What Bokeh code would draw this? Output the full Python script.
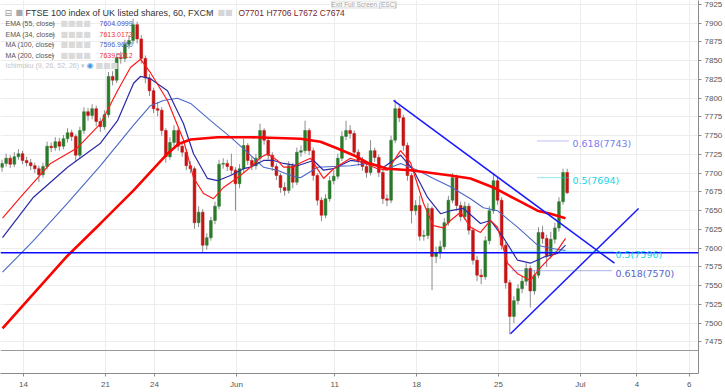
from bokeh.plotting import figure
from bokeh.models import Range1d, FixedTicker, Span, Label, ColumnDataSource
from bokeh.embed import file_html
from bokeh.resources import INLINE

# ---------------- data ----------------
opens = [7708, 7713, 7720, 7712, 7722, 7726, 7717, 7714, 7710, 7706,
         7698, 7709, 7736, 7734, 7742, 7736, 7746, 7754, 7749, 7724,
         7757, 7782, 7777, 7786, 7769, 7762, 7778, 7829, 7824, 7854,
         7853, 7872, 7877, 7898, 7879, 7853, 7827, 7810, 7786, 7784,
         7757, 7722, 7741, 7757, 7736, 7728, 7710, 7706, 7634, 7648,
         7604, 7614, 7637, 7656, 7712, 7713, 7709, 7704, 7686, 7706,
         7737, 7717, 7710, 7720, 7757, 7744, 7724, 7709, 7697, 7681,
         7677, 7710, 7688, 7728, 7730, 7757, 7730, 7697, 7664, 7644,
         7666, 7690, 7696, 7720, 7749, 7757, 7753, 7728, 7717, 7709,
         7701, 7730, 7721, 7701, 7666, 7664, 7744, 7786, 7774, 7737,
         7697, 7650, 7657, 7616, 7617, 7653, 7589, 7594, 7602, 7634,
         7664, 7694, 7657, 7642, 7656, 7624, 7584, 7564, 7562, 7610,
         7650, 7690, 7664, 7604, 7554, 7509, 7530, 7546, 7556, 7573,
         7543, 7564, 7621, 7613, 7590, 7612, 7627, 7662, 7701]
highs = [7718, 7726, 7724, 7728, 7732, 7730, 7722, 7719, 7714, 7710,
         7714, 7742, 7741, 7748, 7747, 7751, 7760, 7758, 7752, 7762,
         7788, 7787, 7792, 7790, 7774, 7784, 7835, 7836, 7860, 7862,
         7878, 7884, 7906, 7902, 7884, 7857, 7832, 7814, 7795, 7788,
         7760, 7748, 7764, 7760, 7741, 7732, 7716, 7709, 7656, 7652,
         7620, 7642, 7662, 7718, 7720, 7718, 7726, 7708, 7712, 7746,
         7740, 7722, 7726, 7766, 7760, 7748, 7728, 7713, 7700, 7688,
         7716, 7714, 7734, 7737, 7770, 7760, 7734, 7700, 7668, 7672,
         7696, 7704, 7726, 7756, 7770, 7764, 7757, 7732, 7722, 7714,
         7744, 7734, 7725, 7705, 7672, 7750, 7798, 7790, 7778, 7741,
         7700, 7664, 7670, 7624, 7660, 7656, 7602, 7610, 7640, 7670,
         7700, 7698, 7662, 7662, 7660, 7628, 7590, 7572, 7616, 7656,
         7700, 7694, 7668, 7608, 7558, 7536, 7552, 7563, 7580, 7577,
         7570, 7628, 7630, 7618, 7622, 7634, 7668, 7706, 7706]
lows = [7702, 7709, 7707, 7708, 7718, 7712, 7709, 7704, 7700, 7688,
        7694, 7705, 7728, 7730, 7730, 7732, 7741, 7743, 7716, 7720,
        7752, 7770, 7772, 7763, 7755, 7758, 7774, 7817, 7820, 7846,
        7848, 7866, 7872, 7873, 7846, 7820, 7803, 7780, 7776, 7750,
        7714, 7718, 7736, 7730, 7722, 7704, 7700, 7626, 7628, 7594,
        7598, 7610, 7632, 7652, 7706, 7703, 7698, 7650, 7680, 7702,
        7711, 7704, 7705, 7716, 7738, 7718, 7703, 7691, 7674, 7670,
        7673, 7680, 7684, 7722, 7726, 7724, 7690, 7657, 7636, 7640,
        7662, 7685, 7692, 7716, 7744, 7746, 7722, 7710, 7703, 7694,
        7697, 7715, 7695, 7659, 7656, 7660, 7740, 7768, 7730, 7690,
        7633, 7644, 7610, 7610, 7612, 7544, 7580, 7586, 7598, 7630,
        7660, 7650, 7636, 7638, 7618, 7578, 7556, 7552, 7558, 7605,
        7646, 7658, 7598, 7546, 7485, 7500, 7525, 7540, 7550, 7521,
        7538, 7560, 7606, 7575, 7586, 7606, 7622, 7658, 7672]
closes = [7713, 7720, 7712, 7722, 7726, 7717, 7714, 7710, 7706, 7698,
          7709, 7736, 7734, 7742, 7736, 7746, 7754, 7749, 7724, 7757,
          7782, 7777, 7786, 7769, 7762, 7778, 7829, 7824, 7854, 7853,
          7872, 7877, 7898, 7879, 7853, 7827, 7810, 7786, 7784, 7757,
          7722, 7741, 7757, 7736, 7728, 7710, 7706, 7634, 7648, 7604,
          7614, 7637, 7656, 7712, 7713, 7709, 7704, 7686, 7706, 7737,
          7717, 7710, 7720, 7757, 7744, 7724, 7709, 7697, 7681, 7677,
          7710, 7688, 7728, 7730, 7757, 7730, 7697, 7664, 7644, 7666,
          7690, 7696, 7720, 7749, 7757, 7753, 7728, 7717, 7709, 7701,
          7730, 7721, 7701, 7666, 7664, 7744, 7786, 7774, 7737, 7697,
          7650, 7657, 7616, 7617, 7653, 7589, 7594, 7602, 7634, 7664,
          7694, 7657, 7642, 7656, 7624, 7584, 7564, 7562, 7610, 7650,
          7690, 7664, 7604, 7554, 7509, 7530, 7546, 7556, 7573, 7543,
          7564, 7621, 7613, 7590, 7612, 7627, 7662, 7701, 7674]
first_bar_day = -1.31     # trading-day index of the first hourly group (14 May = 0)
bars_per_day = 4

ema34_day = [-1.28, -0.18, 1.65, 3.30, 4.70, 5.74, 6.53, 7.14, 7.75, 8.79, 9.77, 10.38,
             10.99, 11.6, 12.21, 13.06, 13.86, 14.47, 14.9, 15.5, 15.87, 16.48, 16.91,
             17.52, 18.32, 18.93, 19.96, 20.76, 21.61, 22.22, 23.02, 23.63, 24.42, 25.03,
             25.64, 26.07, 26.68, 27.29, 27.9, 28.51, 28.94, 29.55, 30.16, 30.95, 31.56,
             32.17, 32.6, 33.09]
ema34_val = [7640, 7668, 7713, 7734, 7766, 7810, 7841, 7852, 7834, 7797, 7744, 7694,
             7673, 7666, 7681, 7694, 7708, 7721, 7726, 7717, 7708, 7708, 7714,
             7720, 7693, 7706, 7720, 7714, 7706, 7704, 7730, 7714, 7660, 7630,
             7627, 7637, 7648, 7628, 7621, 7637, 7628, 7580, 7566, 7557, 7574,
             7588, 7597, 7613]
ema55_day = [-1.28, 0.61, 2.69, 4.70, 5.74, 6.72, 7.14, 7.75, 8.79, 9.77, 10.38, 11.23,
             11.84, 12.64, 13.43, 13.86, 14.65, 15.26, 15.87, 16.73, 17.7, 18.32, 18.93,
             19.96, 21.0, 21.98, 23.02, 23.81, 24.66, 25.46, 26.07, 26.86, 27.9, 28.51,
             29.3, 30.16, 30.95, 31.75, 32.6, 33.09]
ema55_val = [7614, 7668, 7708, 7740, 7770, 7820, 7829, 7826, 7810, 7766, 7726, 7693,
             7690, 7697, 7706, 7708, 7717, 7717, 7713, 7710, 7717, 7704, 7706,
             7717, 7714, 7708, 7724, 7704, 7668, 7646, 7650, 7653, 7633, 7637,
             7614, 7584, 7580, 7588, 7593, 7604]
ma100_day = [-1.28, 0.61, 2.69, 4.70, 6.72, 7.75, 8.55, 9.40, 10.2, 11.42, 12.64, 13.86,
             14.65, 15.5, 16.3, 16.91, 17.95, 18.93, 19.96, 21.0, 22.22, 23.02, 24.05,
             25.03, 26.07, 27.29, 28.08, 28.94, 30.16, 31.38, 32.17, 33.09]
ma100_val = [7568, 7610, 7660, 7710, 7764, 7790, 7797, 7800, 7793, 7770, 7748, 7724,
             7708, 7704, 7697, 7694, 7708, 7709, 7710, 7713, 7706, 7713, 7704,
             7693, 7682, 7666, 7654, 7650, 7628, 7604, 7600, 7597]
ma200_day = [-1.28, 2.69, 4.70, 6.72, 8.79, 9.46, 10.2, 11.84, 13.86, 16.91, 18.13, 19.17,
             20.15, 21.0, 22.22, 23.63, 25.03, 26.07, 27.29, 28.69, 30.16, 31.38,
             32.17, 33.09]
ma200_val = [7493, 7590, 7633, 7677, 7726, 7739, 7745, 7748, 7748, 7746, 7742, 7733,
             7724, 7714, 7706, 7704, 7700, 7697, 7693, 7681, 7664, 7650,
             7646, 7640]

support_level = 7594
down_trend_day = [22.59, 36.08]
down_trend_val = [7797, 7580]
up_trend_day = [29.73, 37.55]
up_trend_val = [7486, 7653]

fib_labels = ["0.618(7743)", "0.5(7694)", "0.5(7596)", "0.618(7570)"]
fib_levels = [7743, 7694, 7596, 7570]
fib_day0 = [31.38, 31.38, 29.73, 29.85]
fib_day1 = [33.27, 33.27, 36.02, 35.96]
fib_colors = ["#7b7bef", "#19d3e6", "#19d3e6", "#5566cc"]

price_ticks = [7475, 7500, 7525, 7550, 7575, 7600, 7625, 7650, 7675, 7700,
               7725, 7750, 7775, 7800, 7825, 7850, 7875, 7900, 7925]
date_ticks = [0, 5, 8, 13, 19, 24, 29, 34, 37.45, 40.65]
date_labels = ["14", "21", "24", "Jun", "11", "18", "25", "Jul", "4", "6"]

last_price = 7674
legend_names = ["EMA (55, close)", "EMA (34, close)", "MA (100, close)", "MA (200, close)"]
legend_values = ["7604.0999", "7613.0173", "7596.9660", "7639.5012"]
legend_colors = ["#4d4dc8", "#f03030", "#4d5fc4", "#f03030"]


# ---------------- layout helpers (reference pixel -> data coords) ----------------
def X(px):
    return (px - 23) / 16.38


def Y(py):
    return 7700 + (172.7 - py) / 0.75


p = figure(width=725, height=392, output_backend="svg", toolbar_location=None,
           x_range=Range1d(X(0), X(698)), y_range=Range1d(Y(373), Y(0)),
           y_axis_location="right", min_border_left=0, min_border_top=0,
           min_border_right=27, min_border_bottom=19)
p.outline_line_color = None
p.background_fill_color = "white"
p.border_fill_color = "white"

# axes
p.yaxis.ticker = FixedTicker(ticks=price_ticks)
p.xaxis.ticker = FixedTicker(ticks=date_ticks)
p.xaxis.major_label_overrides = {t: l for t, l in zip(date_ticks, date_labels)}
for ax in (p.xaxis[0], p.yaxis[0]):
    ax.axis_line_color = "#8a8a8a"
    ax.major_tick_line_color = "#8a8a8a"
    ax.minor_tick_line_color = None
    ax.major_tick_in = 0
    ax.major_tick_out = 3
    ax.major_label_standoff = 3
    ax.major_label_text_font = "Liberation Sans"
    ax.major_label_text_font_size = "8px"
    ax.major_label_text_color = "#555555"
p.xgrid.grid_line_color = "#ececec"
p.ygrid.grid_line_color = "#ececec"

# pane separator
p.add_layout(Span(location=Y(350), dimension="width", line_color="#9a9a9a", line_width=1))

# support line
p.add_layout(Span(location=support_level, dimension="width", line_color="#0a0aff", line_width=1.5))

# candles
n = len(closes)
bar_day = [first_bar_day + i / bars_per_day for i in range(n)]
col = ["#2b7a2b" if c >= o else "#c41414" for o, c in zip(opens, closes)]
src = ColumnDataSource(dict(x=bar_day, o=opens, h=highs, l=lows, c=closes,
                            top=[max(a, b) for a, b in zip(opens, closes)],
                            bot=[min(a, b) for a, b in zip(opens, closes)], col=col))
p.segment(x0="x", y0="l", x1="x", y1="h", source=src, line_color="#8c8c8c", line_width=1)
p.vbar(x="x", width=0.17, top="top", bottom="bot", source=src, fill_color="col",
       line_color="col", line_width=0.5)

# moving averages
p.line(ma100_day, ma100_val, line_color="#4a68c8", line_width=1.1)
p.line(ema55_day, ema55_val, line_color="#2a2aa6", line_width=1.2)
p.line(ema34_day, ema34_val, line_color="#ff1a1a", line_width=1.2)
p.line(ma200_day, ma200_val, line_color="#ff0000", line_width=2.6)

# trend lines
p.line(down_trend_day, down_trend_val, line_color="#1a1aff", line_width=1.5)
p.line(up_trend_day, up_trend_val, line_color="#1a1aff", line_width=1.5)

# fib levels
for lab, lev, d0, d1, fc, dx in zip(fib_labels, fib_levels, fib_day0, fib_day1, fib_colors,
                                    [572, 572, 615, 615]):
    p.line([d0, d1], [lev, lev], line_color=fc, line_width=1, line_dash="1 1")
    p.add_layout(Label(x=X(dx), y=lev, y_offset=-3, text=lab, text_color=fc,
                       text_font="DejaVu Sans", text_font_size="9.5px",
                       text_baseline="middle", text_align="left"))

# header texts
p.add_layout(Label(x=X(4), y=Y(12), text="⊟", text_color="#9a9a9a", text_font="DejaVu Sans",
                   text_font_size="9px", text_baseline="middle"))
p.add_layout(Label(x=X(15), y=Y(12), text="■", text_color="#a8a8a8", text_font="DejaVu Sans",
                   text_font_size="8px", text_baseline="middle"))
p.add_layout(Label(x=X(25), y=Y(12), text="FTSE 100 index of UK listed shares, 60, FXCM",
                   text_color="#333333", text_font="Liberation Sans", text_font_size="9px",
                   text_baseline="middle"))
p.add_layout(Label(x=X(208), y=Y(12), text="▾", text_color="#9a9a9a", text_font="DejaVu Sans",
                   text_font_size="7px", text_baseline="middle"))
p.add_layout(Label(x=X(217), y=Y(12), text="■■", text_color="#d6d6d6", text_font="DejaVu Sans",
                   text_font_size="8px", text_baseline="middle"))
p.add_layout(Label(x=X(238), y=Y(12), text="O7701  H7706  L7672  C7674",
                   text_color="#7a2424", text_font="Liberation Sans", text_font_size="8.5px",
                   text_baseline="middle"))
p.add_layout(Label(x=X(331), y=Y(4), text="Exit Full Screen (ESC)", text_color="#a8a8a8",
                   background_fill_color="#fafafa", border_line_color="#dddddd",
                   text_font="Liberation Sans", text_font_size="6.5px", text_baseline="middle"))

rows_y = [23, 33.5, 44, 54.5]
for name, val, vc, ry in zip(legend_names, legend_values, legend_colors, rows_y):
    p.add_layout(Label(x=X(5), y=Y(ry), text=name, text_color="#555555",
                       text_font="Liberation Sans", text_font_size="7px", text_baseline="middle"))
    p.add_layout(Label(x=X(51), y=Y(ry), text="▾", text_color="#9a9a9a",
                       text_font="DejaVu Sans", text_font_size="6px", text_baseline="middle"))
    p.add_layout(Label(x=X(60), y=Y(ry), text="■■■■", text_color="#dadada",
                       text_font="DejaVu Sans", text_font_size="8px", text_baseline="middle"))
    p.add_layout(Label(x=X(99), y=Y(ry), text=val, text_color=vc,
                       text_font="Liberation Sans", text_font_size="7px", text_baseline="middle"))
p.add_layout(Label(x=X(5), y=Y(65), text="Ichimoku (9, 26, 52, 26) ▾", text_color="#c4c4c4",
                   text_font="Liberation Sans", text_font_size="7px", text_baseline="middle"))
p.add_layout(Label(x=X(86), y=Y(65), text="◉", text_color="#3d9be9",
                   text_font="DejaVu Sans", text_font_size="8px", text_baseline="middle"))
p.add_layout(Label(x=X(95), y=Y(65), text="■■■", text_color="#dadada",
                   text_font="DejaVu Sans", text_font_size="8px", text_baseline="middle"))

# price boxes on the axis
p.add_layout(Label(x=X(699), y=last_price, text="7674 ", text_color="white",
                   background_fill_color="#ff0000", text_font="Liberation Sans",
                   text_font_size="8.5px", text_baseline="middle", text_align="left"))
p.add_layout(Label(x=X(699), y=support_level, text="7594 ", text_color="white",
                   background_fill_color="#0000ff", text_font="Liberation Sans",
                   text_font_size="8.5px", text_baseline="middle", text_align="left"))

open("out.html", "w").write(file_html(p, INLINE))
